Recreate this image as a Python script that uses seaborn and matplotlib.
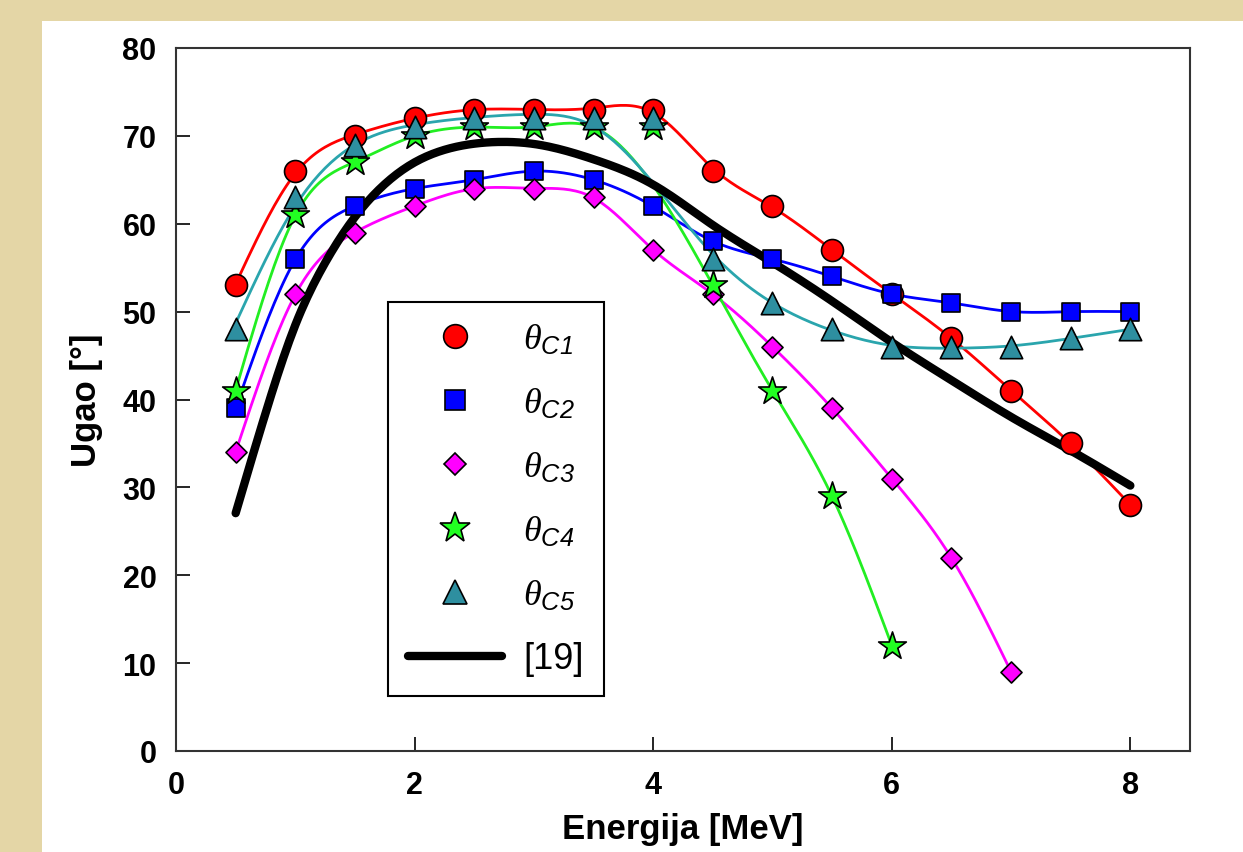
import numpy as np
import seaborn as sns
import matplotlib
matplotlib.use("Agg")
import matplotlib.pyplot as plt
from matplotlib.lines import Line2D
from matplotlib.patches import Rectangle

# energies [MeV]
energy = [0.5, 1.0, 1.5, 2.0, 2.5, 3.0, 3.5, 4.0, 4.5, 5.0, 5.5, 6.0, 6.5, 7.0, 7.5, 8.0]

theta_c1 = [53, 66, 70, 72, 73, 73, 73, 73, 66, 62, 57, 52, 47, 41, 35, 28]
theta_c2 = [39, 56, 62, 64, 65, 66, 65, 62, 58, 56, 54, 52, 51, 50, 50, 50]
theta_c3 = [34, 52, 59, 62, 64, 64, 63, 57, 52, 46, 39, 31, 22, 9]
theta_c4 = [41, 61, 67, 70, 71, 71, 71, 71, 53, 41, 29, 12]
theta_c5 = [48, 63, 69, 71, 72, 72, 72, 72, 56, 51, 48, 46, 46, 46, 47, 48]

# reference curve [19]
ref_energy = [0.5, 0.75, 1.0, 1.25, 1.5, 1.75, 2.0, 2.25, 2.5, 2.75, 3.0,
              3.5, 4.0, 4.5, 5.0, 5.5, 6.0, 6.5, 7.0, 7.5, 8.0]
ref_theta = [27, 38.3, 48.8, 55.4, 60.8, 64.5, 67, 68.4, 69.1, 69.3, 69.1,
             67.3, 64.5, 59.8, 55.6, 51.2, 46.5, 42.2, 38, 34.2, 30.2]

labels = [r"$\theta_{\mathsf{C1}}$", r"$\theta_{\mathsf{C2}}$", r"$\theta_{\mathsf{C3}}$",
          r"$\theta_{\mathsf{C4}}$", r"$\theta_{\mathsf{C5}}$", "[19]"]


def smooth_curve(x, y, lam, step=0.025):
    # penalised fit on a fine grid (behaves like a cubic smoothing spline)
    x = np.asarray(x, float)
    y = np.asarray(y, float)
    xs = np.arange(x[0], x[-1] + step / 2, step)
    n = len(xs)
    idx = np.rint((x - x[0]) / step).astype(int)
    w = np.zeros(n)
    z = np.zeros(n)
    w[idx] = 1
    z[idx] = y
    d = np.diff(np.eye(n), 2, axis=0)
    a = np.diag(w) + lam / step ** 3 * d.T @ d
    return xs, np.linalg.solve(a, w * z)


sns.set_style("ticks")
plt.rcParams["font.family"] = ["Liberation Sans", "DejaVu Sans"]
plt.rcParams["text.color"] = "black"
plt.rcParams["axes.labelcolor"] = "black"
plt.rcParams["xtick.color"] = "black"
plt.rcParams["ytick.color"] = "black"
plt.rcParams["mathtext.fontset"] = "custom"
plt.rcParams["mathtext.it"] = "Liberation Serif:italic"
plt.rcParams["mathtext.rm"] = "Liberation Serif"
plt.rcParams["mathtext.sf"] = "Liberation Sans:italic"

fig = plt.figure(figsize=(12.43, 8.53), dpi=100)
fig.patch.set_facecolor("#E4D6A6")
fig.patches.append(Rectangle((42 / 1243, 0), 1 - 42 / 1243, 1 - 22 / 853,
                             transform=fig.transFigure, facecolor="white",
                             edgecolor="none", zorder=-10))

ax = fig.add_axes([176 / 1243, 1 - 752 / 853, 1014 / 1243, 703 / 853])
ax.set_facecolor("white")

# values, line colour, marker colour, marker, size, smoothing, energies left off the curve
series = [
    (theta_c1, "#FF0000", "#FF0000", "o", 250, 1.5e-3, []),
    (theta_c2, "#0000FF", "#0000FF", "s", 185, 3e-4, []),
    (theta_c3, "#FF00FF", "#FF00FF", "D", 115, 3e-4, []),
    (theta_c4, "#22EE22", "#22FF22", "*", 440, 2e-4, [4.0]),
    (theta_c5, "#2AA5AD", "#2E8FA0", "^", 260, 1e-2, [4.0]),
]

for vals, lc, mc, mk, size, lam, skip in series:
    pts = [(e, v) for e, v in zip(energy, vals) if e not in skip]
    xs, ys = smooth_curve([p[0] for p in pts], [p[1] for p in pts], lam)
    sns.lineplot(x=xs, y=ys, color=lc, linewidth=2, ax=ax, sort=False, zorder=2)

xs, ys = smooth_curve(ref_energy, ref_theta, 1e-3)
sns.lineplot(x=xs, y=ys, color="black", linewidth=6, ax=ax, sort=False, zorder=3)

for vals, lc, mc, mk, size, lam, skip in series:
    sns.scatterplot(x=energy[:len(vals)], y=vals, color=mc, marker=mk, s=size,
                    edgecolor="black", linewidth=1.2, ax=ax, zorder=4)

ax.set_xlim(0, 8.5)
ax.set_ylim(0, 80)
ax.set_xticks([0, 2, 4, 6, 8])
ax.set_yticks(range(0, 81, 10))
ax.tick_params(direction="in", length=10, width=1.2, labelsize=22, pad=14)
for lab in ax.get_xticklabels() + ax.get_yticklabels():
    lab.set_fontweight("bold")
for sp in ax.spines.values():
    sp.set_visible(True)
    sp.set_linewidth(1.5)
    sp.set_color("#333333")

ax.set_xlabel("Energija [MeV]", fontsize=25, fontweight="bold", labelpad=8)
ax.set_ylabel("Ugao [°]", fontsize=25, fontweight="bold", labelpad=14)

handles = []
for vals, lc, mc, mk, size, lam, skip in series:
    handles.append(Line2D([], [], linestyle="none", marker=mk, markerfacecolor=mc,
                          markeredgecolor="black", markeredgewidth=1.2,
                          markersize=np.sqrt(size) * 1.08))
handles.append(Line2D([], [], color="black", linewidth=6))

leg = ax.legend(handles, labels, loc="lower left", bbox_to_anchor=(0.209, 0.078),
                fontsize=26, frameon=True, fancybox=False, handlelength=2.6,
                handletextpad=0.6, labelspacing=0.8, borderpad=0.55,
                borderaxespad=0)
leg.get_frame().set_edgecolor("black")
leg.get_frame().set_linewidth(1.5)
leg.get_frame().set_alpha(1)

fig.savefig("out.png", dpi=100, facecolor=fig.get_facecolor())
